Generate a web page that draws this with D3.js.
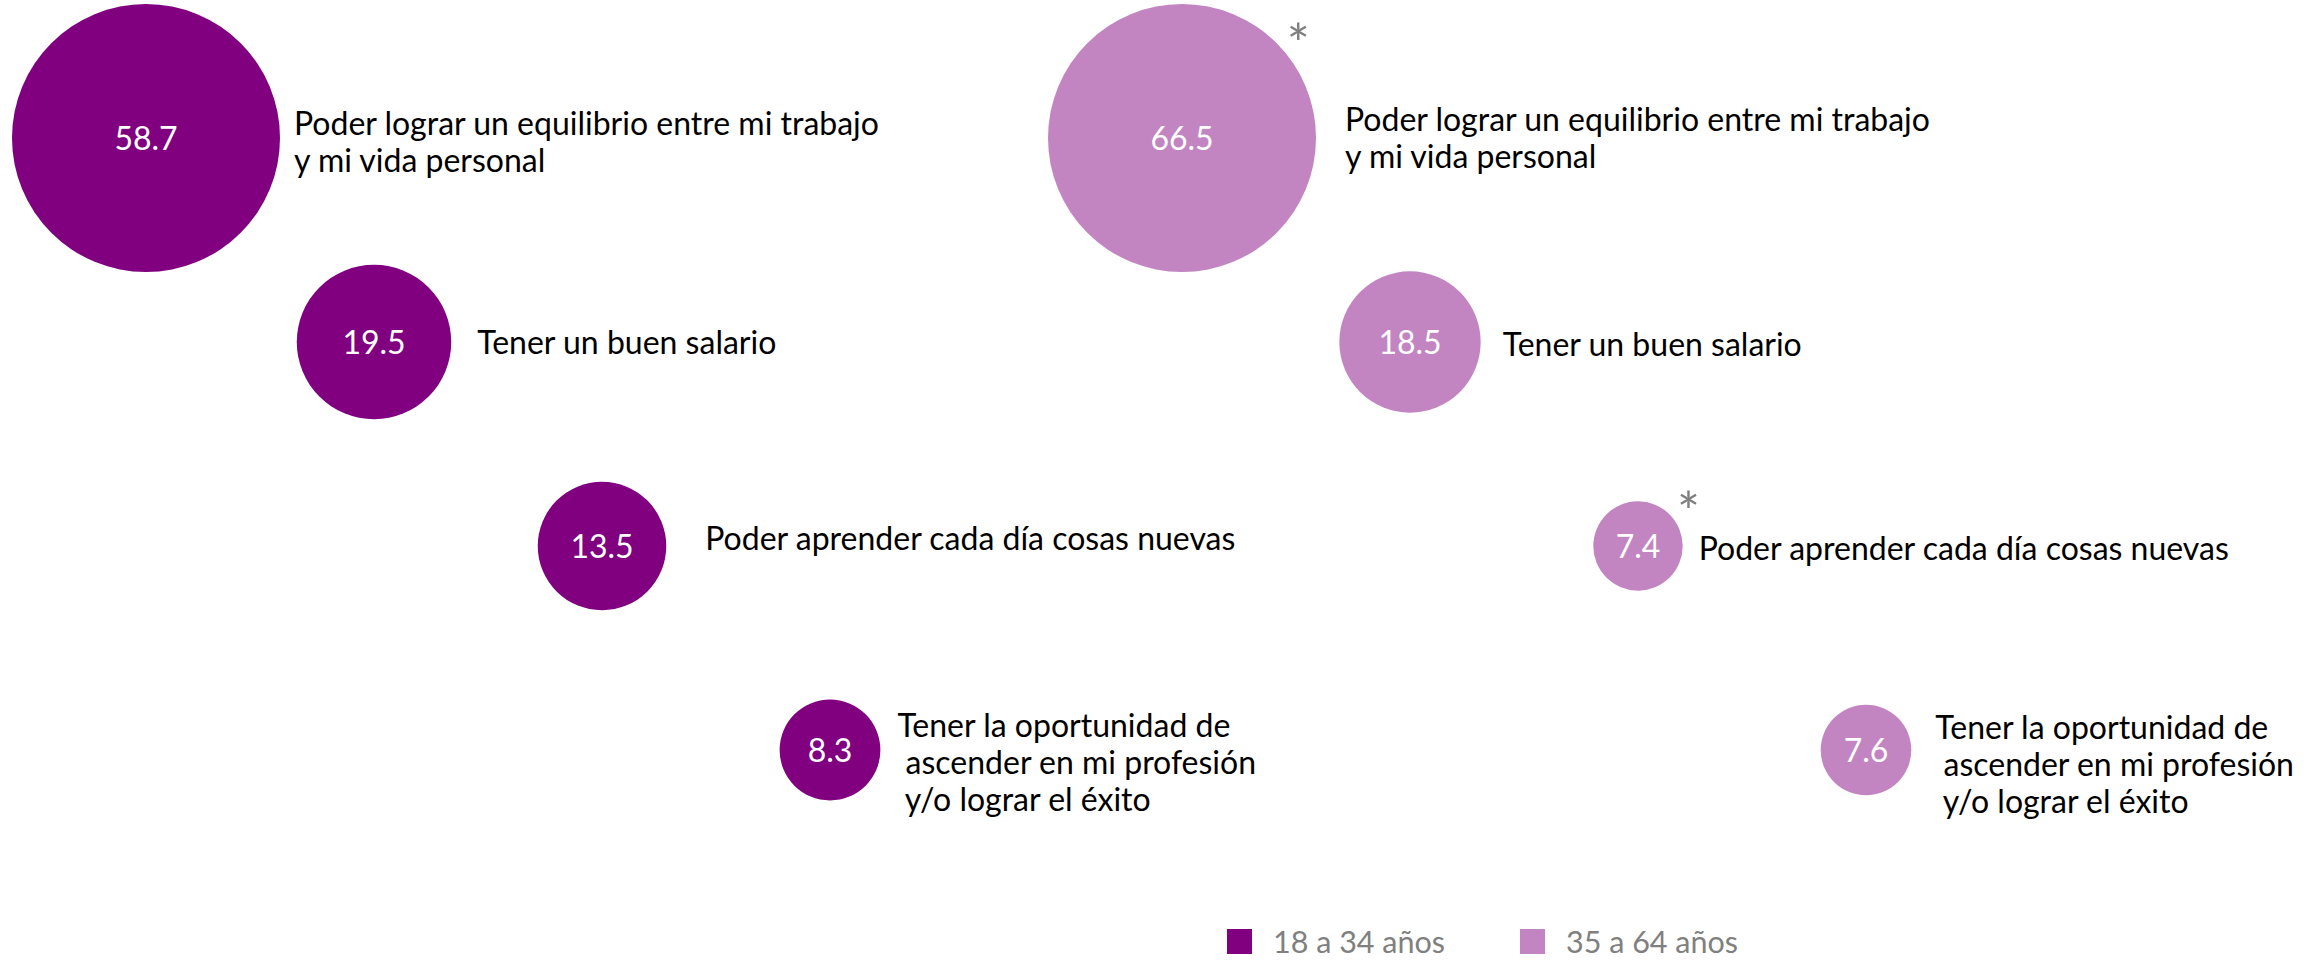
<!DOCTYPE html>
<html lang="es">
<head>
<meta charset="utf-8">
<title>Aspectos más valorados del trabajo por edad</title>
<script src="https://cdn.jsdelivr.net/npm/d3@7/dist/d3.min.js"></script>
<style>
  html, body { margin: 0; padding: 0; background: #ffffff; }
  svg { display: block; font-family: Lato, "Open Sans", sans-serif; }
</style>
</head>
<body>
<svg id="chart" width="2307" height="960"></svg>
<script>
// Aspects of work, one per row (lines separated by "\n")
const categories = [
  "Poder lograr un equilibrio entre mi trabajo\ny mi vida personal",
  "Tener un buen salario",
  "Poder aprender cada día cosas nuevas",
  "Tener la oportunidad de\n ascender en mi profesión\n y/o lograr el éxito"
];

// Share (%) per age group
const groupNames = ["18 a 34 años", "35 a 64 años"];
const valuesYoung = [58.7, 19.5, 13.5, 8.3];
const valuesOlder = [66.5, 18.5, 7.4, 7.6];

// Statistically significant differences, flagged with an asterisk
const flagsYoung = [false, false, false, false];
const flagsOlder = [true, false, true, false];

// ---- styling and layout ----
const colors = ["#800080", "#c285c2"];
const maxRadius = 134;
const panelOffset = 1036;          // horizontal shift of the second panel
const fontSize = 32;
const lineHeight = 37;
const capHalf = 11.5;               // half of the cap height at fontSize
// per-row nudges for the category labels: [gap after circle, baseline shift]
const labelNudge = [
  [[14, 4], [26, 0], [39, -8], [17, 12]],
  [[29, 0], [22, 2], [16, 2], [24, 14]]
];

const svg = d3.select("#chart");

const x = d3.scalePoint().domain(categories).range([146, 830]);
const y = d3.scalePoint().domain(categories).range([138, 750]);

const panels = [
  { name: groupNames[0], values: valuesYoung, flags: flagsYoung, color: colors[0] },
  { name: groupNames[1], values: valuesOlder, flags: flagsOlder, color: colors[1] }
];

panels.forEach((p, pi) => {
  // each panel scales its own largest bubble to the same radius
  const r = d3.scaleSqrt().domain([0, d3.max(p.values)]).range([0, maxRadius]);
  const rows = categories.map((c, i) => ({
    cat: c,
    lines: c.split("\n"),
    value: p.values[i],
    flag: p.flags[i],
    cx: x(c) + pi * panelOffset,
    cy: y(c),
    r: r(p.values[i]),
    nudge: labelNudge[pi][i]
  }));

  const g = svg.append("g").attr("class", "panel");

  const node = g.selectAll("g.item").data(rows).join("g").attr("class", "item");

  node.append("circle")
    .attr("cx", d => d.cx)
    .attr("cy", d => d.cy)
    .attr("r", d => d.r)
    .attr("fill", p.color);

  node.append("text")
    .attr("x", d => d.cx)
    .attr("y", d => d.cy + capHalf)
    .attr("text-anchor", "middle")
    .attr("fill", "#ffffff")
    .attr("font-size", fontSize)
    .text(d => d3.format(".1f")(d.value));

  const label = node.append("text")
    .attr("fill", "#000000")
    .attr("font-size", fontSize)
    .attr("xml:space", "preserve")
    .style("white-space", "pre");

  label.selectAll("tspan")
    .data(d => d.lines.map((t, k) => ({
      t, k,
      x: d.cx + d.r + d.nudge[0],
      y: d.cy + capHalf - (d.lines.length - 1) * lineHeight / 2 + d.nudge[1] + k * lineHeight
    })))
    .join("tspan")
    .attr("x", d => d.x)
    .attr("y", d => d.y)
    .text(d => d.t);

  // asterisk just outside the upper-right edge of the bubble
  node.filter(d => d.flag)
    .append("text")
    .attr("x", d => d.cx + (d.r + 24) * 0.735)
    .attr("y", d => d.cy - (d.r + 24) * 0.67 + 31)
    .attr("text-anchor", "middle")
    .attr("fill", "#7f7f7f")
    .attr("font-size", 54)
    .text("*");
});

// legend
const legend = svg.append("g").attr("transform", "translate(1227, 929)");
const li = legend.selectAll("g").data(panels).join("g")
  .attr("transform", (d, i) => `translate(${i * 293}, 0)`);
li.append("rect")
  .attr("width", 25).attr("height", 25)
  .attr("fill", d => d.color);
li.append("text")
  .attr("x", 46).attr("y", 24)
  .attr("fill", "#808080")
  .attr("font-size", 30.5)
  .text(d => d.name);
</script>
</body>
</html>
